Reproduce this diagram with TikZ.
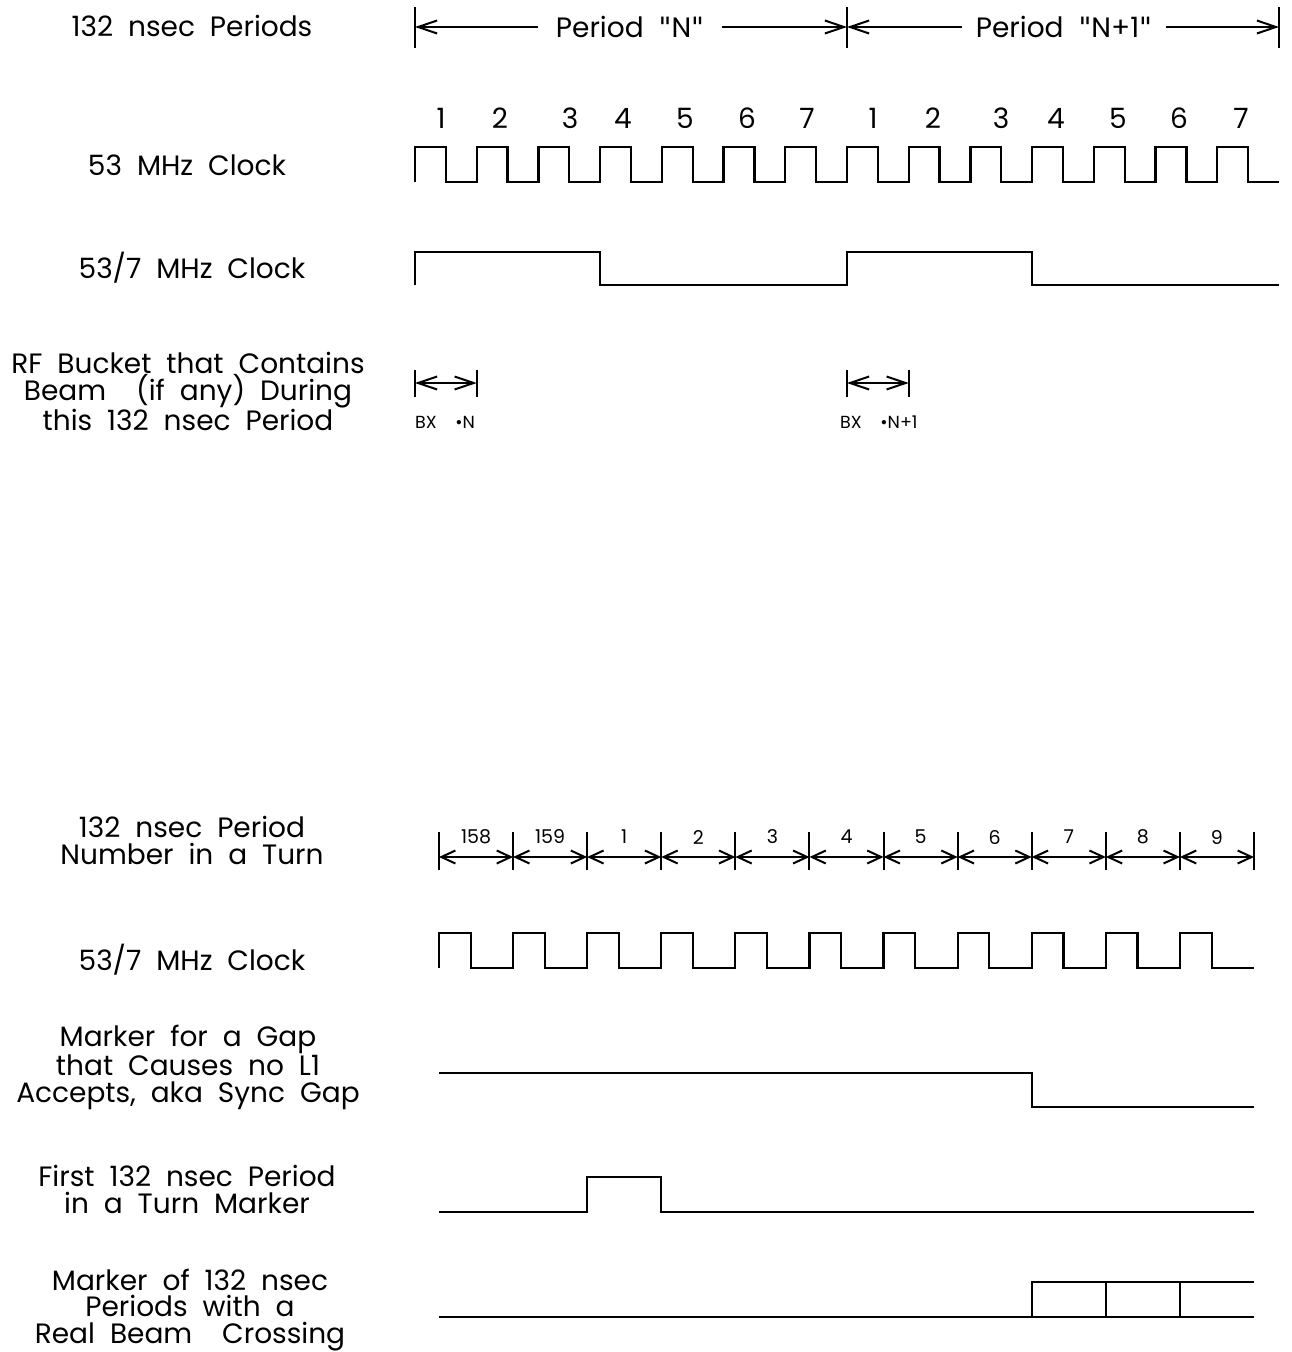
\documentclass[tikz,border=0pt]{standalone}
\usepackage{fontspec}
\setmainfont{Poppins}[WordSpace=2.0]
\newfontfamily\dvfont{DejaVu Sans}
\newcommand{\qq}{{\dvfont\symbol{34}}}
\usetikzlibrary{arrows.meta}
\begin{document}
\begin{tikzpicture}[x=1pt,y=-1pt,
  sig/.style={line width=2.2pt, line join=miter},
  thinsig/.style={line width=1.4pt},
  tick/.style={line width=2pt},
  lbl/.style={align=center, font=\fontsize{28}{26.5}\selectfont, inner sep=0pt, anchor=base},
  num/.style={font=\fontsize{28}{28}\selectfont, inner sep=0pt},
  snum/.style={font=\fontsize{19}{19}\selectfont, inner sep=0pt},
  bx/.style={font=\fontsize{17.5}{17.5}\selectfont, inner sep=0pt, anchor=base west},
  barbA/.tip={Straight Barb[length=19pt,width=13pt]},
  barbB/.tip={Straight Barb[length=14pt,width=13pt]},
  dimA/.style={line width=2pt},
  dimB/.style={line width=2pt, barbB-barbB}
]
\useasboundingbox (0,0) rectangle (1291,1352);

% ---------- left labels (upper) ----------
\node[lbl] (l1) at (192,36) {132 nsec Periods};
\node[lbl] (l2) at (187,175) {53 MHz Clock};
\node[lbl] (l3) at (192,278) {53/7 MHz Clock};
\node[lbl] (l4) at (188,430) {RF Bucket that Contains\\ Beam\ \ (if any) During\\ this 132 nsec Period};

% ---------- period dimension ----------
\coordinate (u0) at (415,27);
\coordinate (u1) at (847,27);
\coordinate (u2) at (1279,27);
\draw[tick] (415,7) -- (415,48);
\draw[tick] (847,7) -- (847,48);
\draw[tick] (1279,7) -- (1279,48);
\node[num, inner xsep=18pt] (pn) at (630,27) {Period \qq N\qq};
\node[num, inner xsep=14pt] (pn1) at (1064,27) {Period \qq N+1\qq};
\draw[dimA, barbA-] (u0) -- (pn.west);
\draw[dimA, -barbA] (pn.east) -- (u1);
\draw[dimA, barbA-] (u1) -- (pn1.west);
\draw[dimA, -barbA] (pn1.east) -- (u2);

% ---------- cycle numbers ----------
\foreach \n/\x in {1/441,2/500,3/570,4/623,5/685,6/747,7/807,1/873,2/933,3/1001,4/1056,5/1118,6/1179,7/1241}
  \node[num] at (\x,118) {\n};

% ---------- 53 MHz clock ----------
\draw[sig] (415,182) foreach \i in {0,...,13} { -- ++(0,-35) -- ++(30.857,0) -- ++(0,35) -- ++(30.857,0) };

% ---------- 53/7 MHz clock ----------
\draw[sig] (415,285) -- (415,252) -- (600.14,252) -- (600.14,285) -- (847,285) -- (847,252) -- (1032.14,252) -- (1032.14,285) -- (1279,285);

% ---------- RF bucket ----------
\coordinate (b0) at (415,383);
\coordinate (b1) at (476.7,383);
\coordinate (b2) at (847,383);
\coordinate (b3) at (908.7,383);
\draw[tick] (415,370) -- (415,397);
\draw[tick] (476.7,370) -- (476.7,397);
\draw[tick] (847,370) -- (847,397);
\draw[tick] (908.7,370) -- (908.7,397);
\draw[dimA, barbA-barbA] (b0) -- (b1);
\draw[dimA, barbA-barbA] (b2) -- (b3);
\node[bx] (bxn) at (415,428) {BX\ \ •N};
\node[bx] (bxn1) at (840,428) {BX\ \ •N+1};

% ---------- left labels (lower) ----------
\node[lbl] (l5) at (192,864) {132 nsec Period\\Number in a Turn};
\node[lbl] (l6) at (192,970) {53/7 MHz Clock};
\node[lbl] (l7) at (188,1102) {Marker for a Gap\\that Causes no L1\\Accepts, aka Sync Gap};
\node[lbl] (l8) at (187,1213) {First 132 nsec Period\\in a Turn Marker};
\node[lbl] (l9) at (190,1343) {Marker of 132 nsec\\Periods with a\\Real Beam\ \ Crossing};

% ---------- period numbers in a turn ----------
\foreach \i in {0,...,11} {
  \coordinate (t\i) at ({439+\i*74.09},857);
  \draw[tick] ({439+\i*74.09},832) -- ({439+\i*74.09},870);
}
\foreach \i [evaluate=\i as \j using int(\i+1)] in {0,...,10}
  \draw[dimB] (t\i) -- (t\j);
\foreach \i/\n in {0/158,1/159,2/1,3/2,4/3,5/4,6/5,7/6,8/7,9/8,10/9}
  \node[snum] (n\i) at ({439+(\i+0.5)*74.09},837) {\n};

% ---------- 53/7 MHz clock (lower) ----------
\draw[sig] (439,968) foreach \i in {0,...,10} { -- ++(0,-35) -- ++(31.75,0) -- ++(0,35) -- ++(42.34,0) };

% ---------- sync gap marker ----------
\draw[sig] (439,1073) -- (1031.7,1073) -- (1031.7,1107) -- (1254,1107);

% ---------- first period marker ----------
\draw[sig] (439,1212) -- (587.2,1212) -- (587.2,1177) -- (661.3,1177) -- (661.3,1212) -- (1254,1212);

% ---------- real beam crossing marker ----------
\draw[sig] (439,1317) -- (1254,1317);
\draw[sig] (1031.7,1317) -- (1031.7,1282) -- (1254,1282);
\draw[thinsig] (1105.8,1282) -- (1105.8,1317);
\draw[thinsig] (1179.9,1282) -- (1179.9,1317);
\end{tikzpicture}
\end{document}
